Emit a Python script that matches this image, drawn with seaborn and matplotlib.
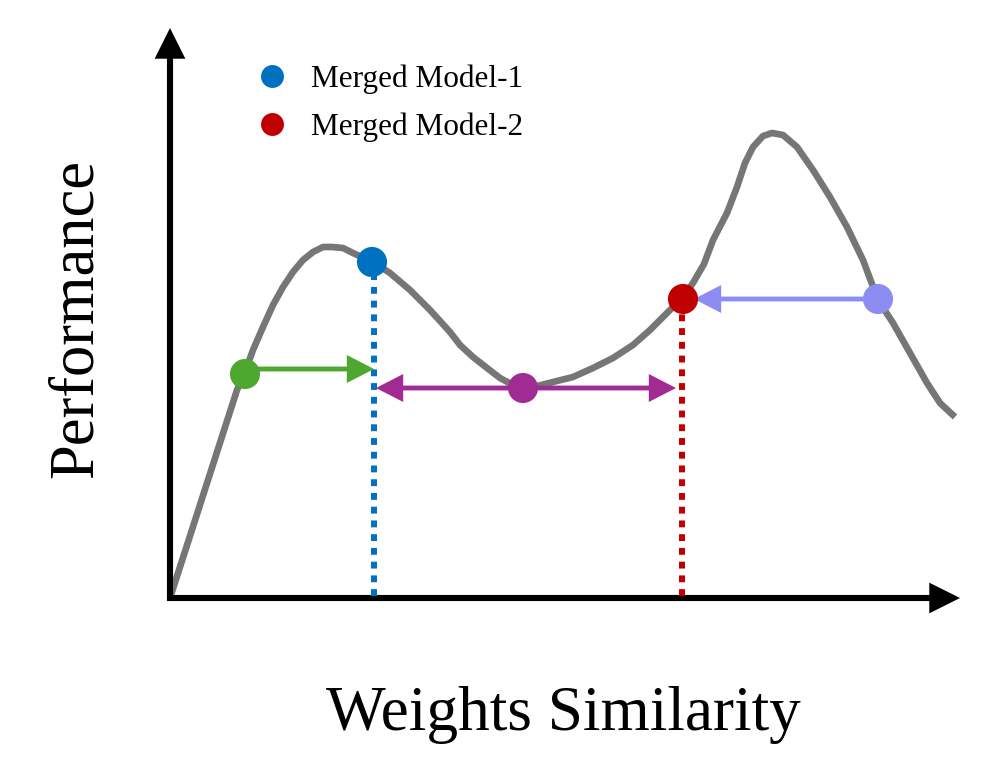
import numpy as np
import pandas as pd
import matplotlib
matplotlib.use("Agg")
import matplotlib.pyplot as plt
from matplotlib.lines import Line2D
import seaborn as sns

# ---- data (arbitrary units; origin at the axes corner) ----
curve_x = [0, 67, 75, 83, 93, 103, 113, 123, 133, 143, 153, 162, 173, 183, 203, 220,
           240, 260, 280, 290, 303, 317, 330, 343, 353, 367, 383, 403, 423, 443, 463,
           480, 497, 512, 523, 534, 543, 557, 567, 575, 583, 593, 602, 613, 627, 643,
           660, 677, 693, 708, 723, 740, 757, 770, 785]
curve_y = [0, 208, 226, 248, 271, 293, 311, 326, 338, 346, 351, 351, 350, 345, 336, 325,
           308, 288, 266, 253, 241, 230, 220, 213, 211, 212, 216, 221, 230, 240, 253,
           268, 285, 300, 315, 334, 358, 385, 411, 435, 451, 462, 465, 463, 451, 428,
           401, 371, 338, 298, 275, 245, 215, 195, 181]

point_names = ["Merged Model-1", "Merged Model-2", "start", "middle", "right"]
point_x = [202, 513, 75, 353, 708]
point_y = [336, 299, 224, 210, 299]
point_colors = ["#0070C0", "#C00000", "#4EA72E", "#A02B93", "#8C8CF2"]

# arrows between points (horizontal): start x, end x, y, colour
arrow_from_x = [75, 353, 353, 708]
arrow_to_x = [204, 206, 506, 524]
arrow_y = [229, 210, 210, 299]
arrow_colors = ["#4EA72E", "#A02B93", "#A02B93", "#8C8CF2"]

# dotted drop lines for the merged models
drop_x = [204, 512]
drop_top = [336, 299]
drop_colors = ["#0070C0", "#C00000"]

x_label = "Weights Similarity"
y_label = "Performance"

# ---- figure ----
sns.set_theme(style="white")
plt.rcParams["font.family"] = ["Liberation Serif", "DejaVu Serif"]
plt.rcParams["text.color"] = "black"

fig = plt.figure(figsize=(9.88, 7.82), dpi=100)
ax = fig.add_axes([0, 0, 1, 1])
ax.set_xlim(-170, 818)
ax.set_ylim(-184, 598)
ax.axis("off")

# curve
curve = pd.DataFrame({"x": curve_x, "y": curve_y})
sns.lineplot(data=curve, x="x", y="y", sort=False, color="#767676", lw=4.8,
             ax=ax, zorder=2, solid_joinstyle="round", solid_capstyle="butt")

# axes with arrowheads
axis_style = "-|>,head_length=15,head_width=7.5"
ax.annotate("", xy=(0, 570), xytext=(0, -3),
            arrowprops=dict(arrowstyle=axis_style, mutation_scale=1, lw=4.4,
                            color="black", shrinkA=0, shrinkB=0,
                            joinstyle="miter", capstyle="butt"), zorder=3)
ax.annotate("", xy=(790, 0), xytext=(-3, 0),
            arrowprops=dict(arrowstyle=axis_style, mutation_scale=1, lw=4.4,
                            color="black", shrinkA=0, shrinkB=0,
                            joinstyle="miter", capstyle="butt"), zorder=3)

# dotted drops
for dx, dt, dc in zip(drop_x, drop_top, drop_colors):
    ax.plot([dx, dx], [2, dt], color=dc, lw=4.3, linestyle=(0, (1.15, 1.15)),
            dash_capstyle="butt", zorder=3)

# arrows between points
for fx, tx, ay, ac in zip(arrow_from_x, arrow_to_x, arrow_y, arrow_colors):
    ax.annotate("", xy=(tx, ay), xytext=(fx, ay),
                arrowprops=dict(arrowstyle="-|>,head_length=14,head_width=7.2",
                                mutation_scale=1, lw=3.5, color=ac,
                                shrinkA=0, shrinkB=0, joinstyle="miter",
                                capstyle="butt"), zorder=4)

# points
pts = pd.DataFrame({"name": point_names, "x": point_x, "y": point_y})
sns.scatterplot(data=pts, x="x", y="y", hue="name", palette=point_colors,
                s=470, linewidth=0, legend=False, ax=ax, zorder=5)

# labels
ax.text(393, -132, x_label, ha="center", va="baseline", fontsize=45.5, color="black")
ax.text(-78, 280, y_label, ha="center", va="baseline", rotation=90,
        rotation_mode="anchor", fontsize=45, color="black")

# legend
handles = [Line2D([], [], marker="o", linestyle="none", markersize=16.5,
                  markerfacecolor=c, markeredgewidth=0)
           for c in point_colors[:2]]
leg = ax.legend(handles, point_names[:2], loc="upper left",
                bbox_to_anchor=(256 / 988, 1 - 64 / 782), frameon=False,
                fontsize=22.5, handlelength=1.0, handletextpad=0.75,
                labelspacing=0.6, borderaxespad=0, borderpad=0)
for t in leg.get_texts():
    t.set_color("black")

ax.set_xlabel("")
ax.set_ylabel("")
fig.savefig("out.png", dpi=100, facecolor="white")
